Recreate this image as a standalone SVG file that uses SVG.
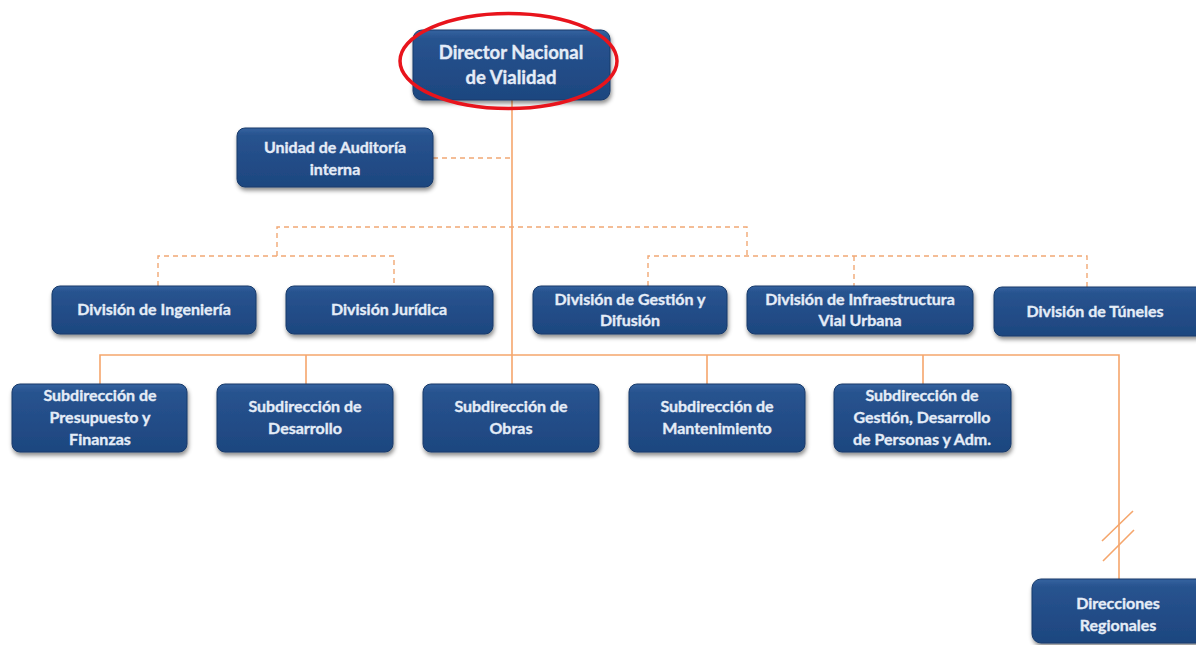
<svg xmlns="http://www.w3.org/2000/svg" width="1196" height="645" viewBox="0 0 1196 645">
<defs>
<linearGradient id="bg" x1="0" y1="0" x2="0" y2="1">
<stop offset="0" stop-color="#3463a0"/>
<stop offset="0.12" stop-color="#28538f"/>
<stop offset="1" stop-color="#1d467f"/>
</linearGradient>
<filter id="sh" x="-10%" y="-10%" width="120%" height="130%">
<feDropShadow dx="1" dy="3" stdDeviation="2" flood-color="#000" flood-opacity="0.45"/>
</filter>
<style>
.box{fill:url(#bg);stroke:#183a6a;stroke-width:1;filter:url(#sh)}
.t{font-family:Lato,"Liberation Sans",sans-serif;font-weight:bold;font-size:16px;fill:#e4ecf7;stroke:#e4ecf7;stroke-width:0.35;text-anchor:middle}
.big{font-size:18.5px}
.solid{fill:none;stroke:#f5a66c;stroke-width:1.6}
.dash{fill:none;stroke:#f1a874;stroke-width:1.4;stroke-dasharray:5,4}
</style>
</defs>
<rect width="1196" height="645" fill="#ffffff"/>
<g id="connectors">
<path class="solid" d="M512 100 V355"/>
<path class="solid" d="M100 384 V355 H1119 V579"/>
<path class="solid" d="M306 355 V384 M512 355 V384 M707 355 V384 M923 355 V384"/>
<path class="solid" d="M1102 541 L1133 511 M1103 561 L1134 530" stroke-width="1.3"/>
<path class="dash" d="M433 158 H512"/>
<path class="dash" d="M277 256 V227 H747 V256"/>
<path class="dash" d="M158 286 V256 H394 V286"/>
<path class="dash" d="M648 286 V256 H1087 V287"/>
<path class="dash" d="M854 256 V286"/>
</g>
<g id="director">
<rect class="box" x="413" y="30" width="197" height="70" rx="9"/>
<text class="t big" x="511" y="59">Director Nacional</text>
<text class="t big" x="511" y="84">de Vialidad</text>
</g>
<g id="unidad-auditoria">
<rect class="box" x="237" y="128" width="196" height="59" rx="8"/>
<text class="t" x="335" y="153">Unidad de Auditoría</text>
<text class="t" x="335" y="175">interna</text>
</g>
<g id="div-ingenieria">
<rect class="box" x="52" y="286" width="204" height="48" rx="8"/>
<text class="t" x="154" y="315">División de Ingeniería</text>
</g>
<g id="div-juridica">
<rect class="box" x="286" y="286" width="207" height="48" rx="8"/>
<text class="t" x="389" y="315">División Jurídica</text>
</g>
<g id="div-gestion">
<rect class="box" x="533" y="286" width="194" height="48" rx="8"/>
<text class="t" x="630" y="305">División de Gestión y</text>
<text class="t" x="630" y="326">Difusión</text>
</g>
<g id="div-infraestructura">
<rect class="box" x="747" y="286" width="226" height="48" rx="8"/>
<text class="t" x="860" y="305">División de Infraestructura</text>
<text class="t" x="860" y="326">Vial Urbana</text>
</g>
<g id="div-tuneles">
<rect class="box" x="994" y="287" width="210" height="49" rx="8"/>
<text class="t" x="1095" y="317">División de Túneles</text>
</g>
<g id="sub-presupuesto">
<rect class="box" x="12" y="384" width="175" height="68" rx="8"/>
<text class="t" x="100" y="401">Subdirección de</text>
<text class="t" x="100" y="423">Presupuesto y</text>
<text class="t" x="100" y="445">Finanzas</text>
</g>
<g id="sub-desarrollo">
<rect class="box" x="217" y="384" width="176" height="68" rx="8"/>
<text class="t" x="305" y="412">Subdirección de</text>
<text class="t" x="305" y="434">Desarrollo</text>
</g>
<g id="sub-obras">
<rect class="box" x="423" y="384" width="176" height="68" rx="8"/>
<text class="t" x="511" y="412">Subdirección de</text>
<text class="t" x="511" y="434">Obras</text>
</g>
<g id="sub-mantenimiento">
<rect class="box" x="629" y="384" width="176" height="68" rx="8"/>
<text class="t" x="717" y="412">Subdirección de</text>
<text class="t" x="717" y="434">Mantenimiento</text>
</g>
<g id="sub-gestion">
<rect class="box" x="834" y="384" width="177" height="68" rx="8"/>
<text class="t" x="922" y="401">Subdirección de</text>
<text class="t" x="922" y="423">Gestión, Desarrollo</text>
<text class="t" x="922" y="445">de Personas y Adm.</text>
</g>
<g id="direcciones-regionales">
<rect class="box" x="1032" y="579" width="180" height="64" rx="9"/>
<text class="t" x="1118" y="609">Direcciones</text>
<text class="t" x="1118" y="631">Regionales</text>
</g>
<ellipse cx="508.5" cy="61" rx="108.5" ry="47.5" fill="none" stroke="#e8141c" stroke-width="3.5"/>
</svg>
